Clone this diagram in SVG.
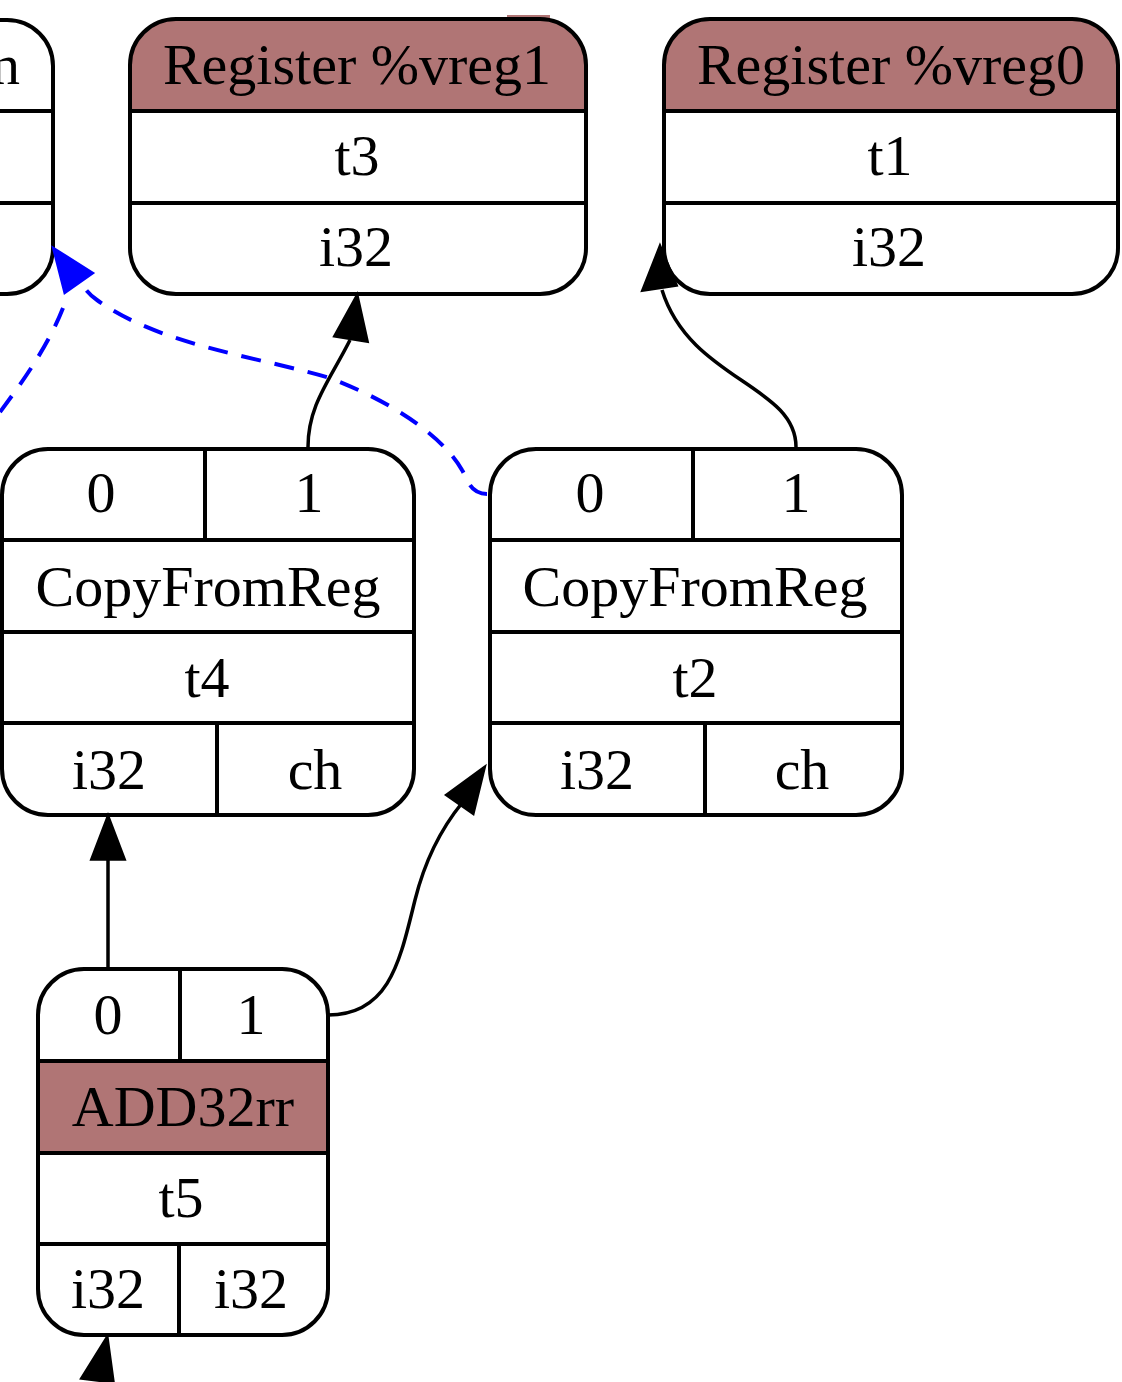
<svg xmlns="http://www.w3.org/2000/svg" width="1122" height="1382" viewBox="0 0 1122 1382">
<defs>
<style>
.box{fill:none;stroke:#000;stroke-width:4}
.hdr{fill:#b07575;stroke:none}
.ln{stroke:#000;stroke-width:4;fill:none}
.t{font-family:"Liberation Serif","Times New Roman",serif;font-size:58px;fill:#000;text-anchor:middle}
.e{fill:none;stroke:#000;stroke-width:3.5}
.d{fill:none;stroke:#0000ff;stroke-width:4;stroke-dasharray:20,14}
.ah{fill:#000;stroke:#000;stroke-width:3.5}
.ahb{fill:#0000ff;stroke:#0000ff;stroke-width:3.5}
</style>
</defs>
<rect width="1122" height="1382" fill="#fff"/>

<g id="node_left">
<path class="box" d="M0,20 H7 A46,46 0 0 1 53,66 V248 A46,46 0 0 1 7,294 H0"/>
<line class="ln" x1="0" y1="111" x2="53" y2="111"/>
<line class="ln" x1="0" y1="203" x2="53" y2="203"/>
<text class="t" x="20" y="84" style="text-anchor:end">n</text>
</g>

<g id="node_vreg1">
<rect class="hdr" x="507" y="15" width="43" height="6"/>
<path class="hdr" d="M130,111 V65 A46,46 0 0 1 176,19 H540 A46,46 0 0 1 586,65 V111 Z"/>
<rect class="box" x="130" y="19" width="456" height="275" rx="46" ry="46"/>
<line class="ln" x1="130" y1="111" x2="586" y2="111"/>
<line class="ln" x1="130" y1="203" x2="586" y2="203"/>
<text class="t" x="357" y="84">Register %vreg1</text>
<text class="t" x="357" y="175">t3</text>
<text class="t" x="356" y="266">i32</text>
</g>

<g id="node_vreg0">
<path class="hdr" d="M664,111 V65 A46,46 0 0 1 710,19 H1072 A46,46 0 0 1 1118,65 V111 Z"/>
<rect class="box" x="664" y="19" width="454" height="275" rx="46" ry="46"/>
<line class="ln" x1="664" y1="111" x2="1118" y2="111"/>
<line class="ln" x1="664" y1="203" x2="1118" y2="203"/>
<text class="t" x="891" y="84">Register %vreg0</text>
<text class="t" x="890" y="175">t1</text>
<text class="t" x="889" y="266">i32</text>
</g>

<g id="node_t4">
<rect class="box" x="2" y="449" width="412" height="366" rx="46" ry="46"/>
<line class="ln" x1="2" y1="540" x2="414" y2="540"/>
<line class="ln" x1="2" y1="632" x2="414" y2="632"/>
<line class="ln" x1="2" y1="723" x2="414" y2="723"/>
<line class="ln" x1="205" y1="449" x2="205" y2="540"/>
<line class="ln" x1="217" y1="723" x2="217" y2="815"/>
<text class="t" x="101" y="512">0</text>
<text class="t" x="309" y="512">1</text>
<text class="t" x="208" y="606">CopyFromReg</text>
<text class="t" x="207" y="697">t4</text>
<text class="t" x="109" y="789">i32</text>
<text class="t" x="315" y="789">ch</text>
</g>

<g id="node_t2">
<rect class="box" x="490" y="449" width="412" height="366" rx="46" ry="46"/>
<line class="ln" x1="490" y1="540" x2="902" y2="540"/>
<line class="ln" x1="490" y1="632" x2="902" y2="632"/>
<line class="ln" x1="490" y1="723" x2="902" y2="723"/>
<line class="ln" x1="693" y1="449" x2="693" y2="540"/>
<line class="ln" x1="705" y1="723" x2="705" y2="815"/>
<text class="t" x="590" y="512">0</text>
<text class="t" x="796" y="512">1</text>
<text class="t" x="695" y="606">CopyFromReg</text>
<text class="t" x="695" y="697">t2</text>
<text class="t" x="597" y="789">i32</text>
<text class="t" x="802" y="789">ch</text>
</g>

<g id="node_t5">
<path class="hdr" d="M38,1061 H328 V1153 H38 Z"/>
<rect class="box" x="38" y="969" width="290" height="366" rx="46" ry="46"/>
<line class="ln" x1="38" y1="1061" x2="328" y2="1061"/>
<line class="ln" x1="38" y1="1153" x2="328" y2="1153"/>
<line class="ln" x1="38" y1="1244" x2="328" y2="1244"/>
<line class="ln" x1="180" y1="969" x2="180" y2="1061"/>
<line class="ln" x1="179" y1="1244" x2="179" y2="1335"/>
<text class="t" x="108" y="1034">0</text>
<text class="t" x="251" y="1034">1</text>
<text class="t" x="183" y="1126">ADD32rr</text>
<text class="t" x="181" y="1217">t5</text>
<text class="t" x="108" y="1308">i32</text>
<text class="t" x="251" y="1308">i32</text>
</g>

<g id="connectors">
<path class="e" d="M308,447 C308,405 330,380 350,340"/>
<polygon class="ah" points="357,296 335,336 367,341"/>

<path class="e" d="M796,447 C796,385 690,380 662,290"/>
<polygon class="ah" points="660,247 643,290 676,285"/>

<path class="e" d="M108,969 V858"/>
<polygon class="ah" points="108,817 92,859 124,859"/>

<path class="e" d="M328,1015 C390,1015 400,960 415,900 C425,860 440,830 462,803"/>
<polygon class="ah" points="484,768 447,795 473,813"/>

<path class="d" d="M487,494 C470,494 468,480 462,470 C445,440 400,405 330,378 C250,355 160,345 97,300 C88,294 82,285 78,278"/>
<path class="d" d="M0,412 C20,385 50,345 66,300"/>
<polygon class="ahb" points="54,249 65,292 92,273"/>

<polygon class="ah" points="107,1338 82,1378 113,1382"/>
</g>
</svg>
